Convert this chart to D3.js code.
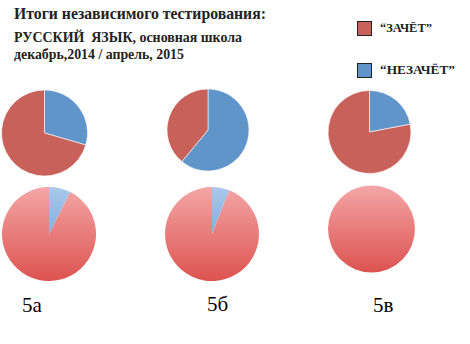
<!DOCTYPE html>
<html>
<head>
<meta charset="utf-8">
<script src="https://cdnjs.cloudflare.com/ajax/libs/d3/7.8.5/d3.min.js"></script>
<style>
  html, body { margin: 0; padding: 0; background: #fff; }
  svg { display: block; }
</style>
</head>
<body>
<svg id="chart" width="470" height="344"></svg>
<script>
// ---- data ----
const classes = ["5а", "5б", "5в"];
const seriesNames = ["“НЕЗАЧЁТ”", "“ЗАЧЁТ”"];
// December 2014 (top row)
const decFail = [29.5, 61, 22];
const decPass = [70.5, 39, 78];
// April 2015 (bottom row)
const aprFail = [7.5, 6, 0];
const aprPass = [92.5, 94, 100];
const titleLines = ["Итоги независимого тестирования:", "РУССКИЙ  ЯЗЫК, основная школа", "декабрь,2014 / апрель, 2015"];

// ---- layout ----
const SERIF = '"Liberation Serif", "Times New Roman", serif';
const topRow = [{cx: 44.5, cy: 133, r: 43}, {cx: 208, cy: 130, r: 41}, {cx: 369.5, cy: 132, r: 41.5}];
const botRow = [{cx: 49, cy: 234, r: 47}, {cx: 212, cy: 234, r: 47}, {cx: 371.5, cy: 229, r: 43.5}];
const labelPos = [{x: 22, y: 312}, {x: 207, y: 311}, {x: 373, y: 312}];

const svg = d3.select("#chart");
const defs = svg.append("defs");

const flatColor = d3.scaleOrdinal().domain(seriesNames).range(["#5f95c9", "#c9615b"]);
const pie = d3.pie().sort(null).value(d => d.v);

function drawPie(values, pos, colorScale, gradient) {
  const data = seriesNames.map((n, i) => ({name: n, v: values[i]}));
  const arc = d3.arc().innerRadius(0).outerRadius(pos.r);
  const g = svg.append("g").attr("transform", `translate(${pos.cx},${pos.cy})`);
  const arcs = pie(data).filter(d => d.data.v > 0);
  g.selectAll("path").data(arcs).join("path")
    .attr("d", arc)
    .attr("fill", d => colorScale(d.data.name))
    .attr("stroke", gradient ? "none" : "#fff")
    .attr("stroke-width", gradient ? 0 : 0.6);
}

classes.forEach((c, i) => {
  drawPie([decFail[i], decPass[i]], topRow[i], flatColor, false);
});

classes.forEach((c, i) => {
  const pos = botRow[i];
  const mk = (id, c0, c1) => {
    const lg = defs.append("linearGradient").attr("id", id)
      .attr("gradientUnits", "userSpaceOnUse")
      .attr("x1", 0).attr("y1", -pos.r).attr("x2", 0).attr("y2", pos.r);
    lg.append("stop").attr("offset", "0%").attr("stop-color", c0);
    lg.append("stop").attr("offset", "100%").attr("stop-color", c1);
  };
  mk("red" + i, "#f4a6a7", "#dc534f");
  mk("blue" + i, "#a9c9ec", "#5b94d4");
  const cs = d3.scaleOrdinal().domain(seriesNames).range([`url(#blue${i})`, `url(#red${i})`]);
  drawPie([aprFail[i], aprPass[i]], pos, cs, true);
});

// fit a text element to a target width by scaling its font size
function fit(sel, target) {
  sel.each(function(d, i) {
    const t = d3.select(this);
    const fs = +t.attr("font-size");
    const w = this.getComputedTextLength();
    const tw = typeof target === "function" ? target(d, i) : target;
    if (w > 0) t.attr("font-size", (fs * tw / w).toFixed(2));
  });
}

// class labels
svg.selectAll("text.cls").data(classes).join("text")
  .attr("class", "cls")
  .attr("x", (d, i) => labelPos[i].x)
  .attr("y", (d, i) => labelPos[i].y)
  .attr("font-size", 21)
  .style("font-family", SERIF)
  .attr("fill", "#000")
  .text(d => d);

// title
const titleY = [19, 41.5, 58.5];
const titleW = [252, 228, 170];
const title = svg.selectAll("text.title").data(titleLines).join("text")
  .attr("class", "title")
  .attr("x", 14)
  .attr("y", (d, i) => titleY[i])
  .attr("font-weight", "bold")
  .attr("font-size", 14)
  .style("font-family", SERIF)
  .attr("fill", "#222")
  .style("white-space", "pre")
  .text(d => d);
fit(title, (d, i) => titleW[i]);

// legend
const legendItems = [{name: "“ЗАЧЁТ”", y: 21, w: 52}, {name: "“НЕЗАЧЁТ”", y: 63, w: 75}];
const lg = svg.append("g");
lg.selectAll("rect").data(legendItems).join("rect")
  .attr("x", 357.5).attr("y", d => d.y + 0.5)
  .attr("width", 14).attr("height", 14)
  .attr("fill", d => flatColor(d.name))
  .attr("stroke", "#222").attr("stroke-width", 1);
const lt = lg.selectAll("text").data(legendItems).join("text")
  .attr("x", 380).attr("y", d => d.y + 11)
  .attr("font-weight", "bold")
  .attr("font-size", 11)
  .style("font-family", SERIF)
  .attr("fill", "#222")
  .text(d => d.name);
fit(lt, d => d.w);
</script>
</body>
</html>
